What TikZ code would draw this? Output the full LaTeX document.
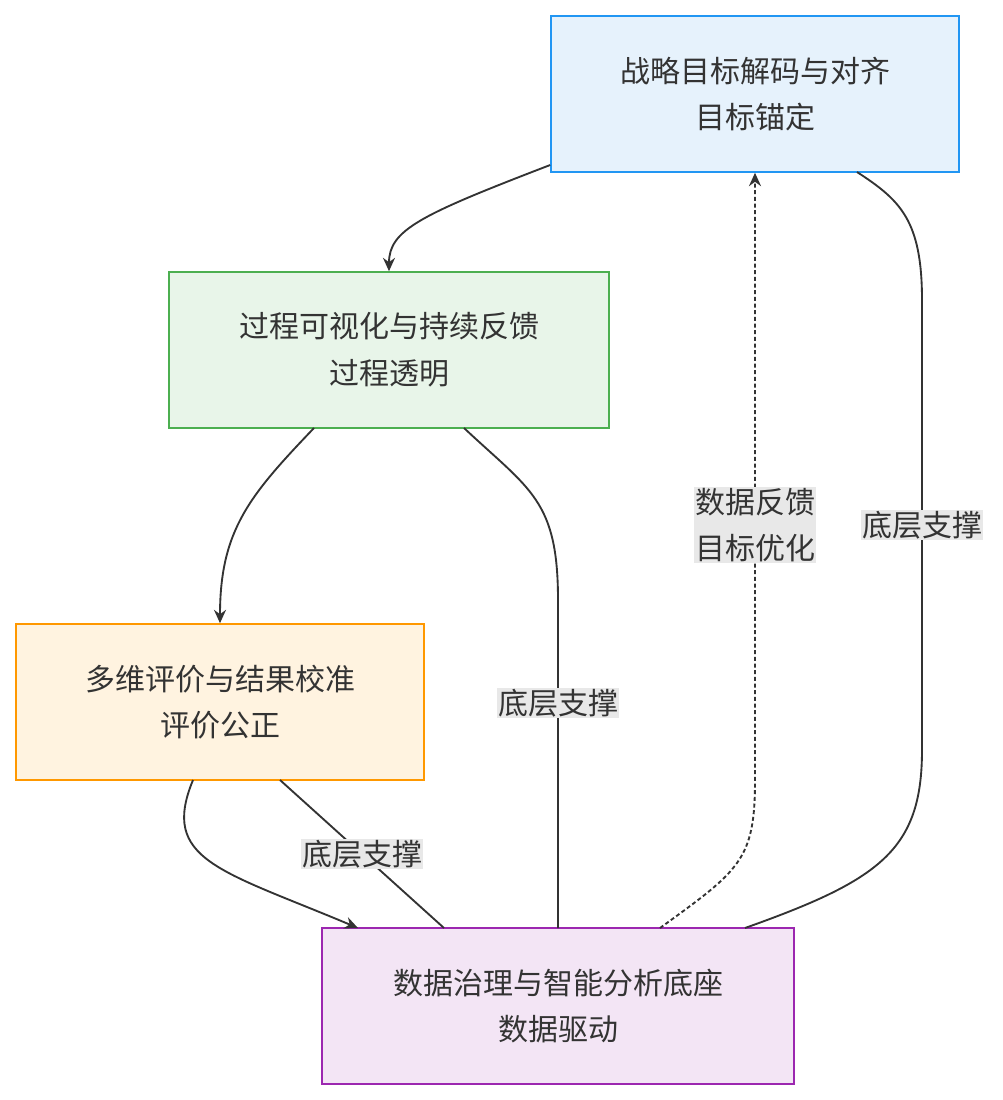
\documentclass[tikz,border=0pt]{standalone}
\usepackage{fontspec}
\setmainfont{Noto Sans CJK SC}
\usetikzlibrary{positioning}
\usetikzlibrary{arrows.meta}
\definecolor{cb}{RGB}{51,51,51}
\definecolor{cl}{RGB}{232,232,232}
\definecolor{fa}{RGB}{230,242,252}\definecolor{da}{RGB}{33,150,243}
\definecolor{fb}{RGB}{232,245,233}\definecolor{db}{RGB}{76,175,80}
\definecolor{fc}{RGB}{255,243,224}\definecolor{dc}{RGB}{255,152,0}
\definecolor{fd}{RGB}{243,229,245}\definecolor{dd}{RGB}{156,39,176}
\tikzstyle{box}=[cb, text=cb, draw, line width=1.2pt, minimum width=306pt, minimum height=117pt, align=center, font=\fontsize{22.5}{35}\selectfont]
\tikzstyle{lbl}=[fill=cl, text=cb, align=center, inner sep=1pt, font=\fontsize{22.5}{35}\selectfont]
\tikzstyle{arrow}=[cb, line width=1.4pt, -{Stealth[length=10pt,width=9pt]}]
\tikzstyle{link}=[cb, line width=1.4pt]
\begin{document}
\begin{tikzpicture}[x=0.75pt, y=-0.75pt]
  \useasboundingbox (0,0) rectangle (1003,1100);
  \node [box, fill=fa, draw=da] (goal) at (755,94) {战略目标解码与对齐\\目标锚定};
  \node [box, fill=fb, draw=db, minimum width=330pt] (proc) at (389,350) {过程可视化与持续反馈\\过程透明};
  \node [box, fill=fc, draw=dc] (eval) at (220,702) {多维评价与结果校准\\评价公正};
  \node [box, fill=fd, draw=dd, minimum width=354pt] (data) at (558,1006) {数据治理与智能分析底座\\数据驱动};

  \draw [arrow] (goal.west |- 0,165) .. controls (420,215) and (389,230) .. (proc.north);
  \draw [arrow] (314,428) .. controls (250,495) and (220,530) .. (eval.north);
  \draw [arrow] (193,780) .. controls (160,860) and (220,870) .. (358,928);
  \draw [arrow, dash pattern=on 3pt off 2pt] (660,928) .. controls (740,870) and (755,860) .. (755,780) -- (goal.south);
  \node [lbl] (l1) at (755,525) {数据反馈\\目标优化};
  \draw [link] (444,928) -- node[lbl] {底层支撑} (280,780);
  \draw [link] (558,928) -- (558,600) .. controls (558,500) and (530,490) .. (464,428);
  \node [lbl] (l2) at (558,703) {底层支撑};
  \draw [link] (745,928) .. controls (880,880) and (922,850) .. (922,750) -- (922,300) .. controls (922,220) and (900,200) .. (857,172);
  \node [lbl] (l3) at (922,525) {底层支撑};
\end{tikzpicture}
\end{document}
